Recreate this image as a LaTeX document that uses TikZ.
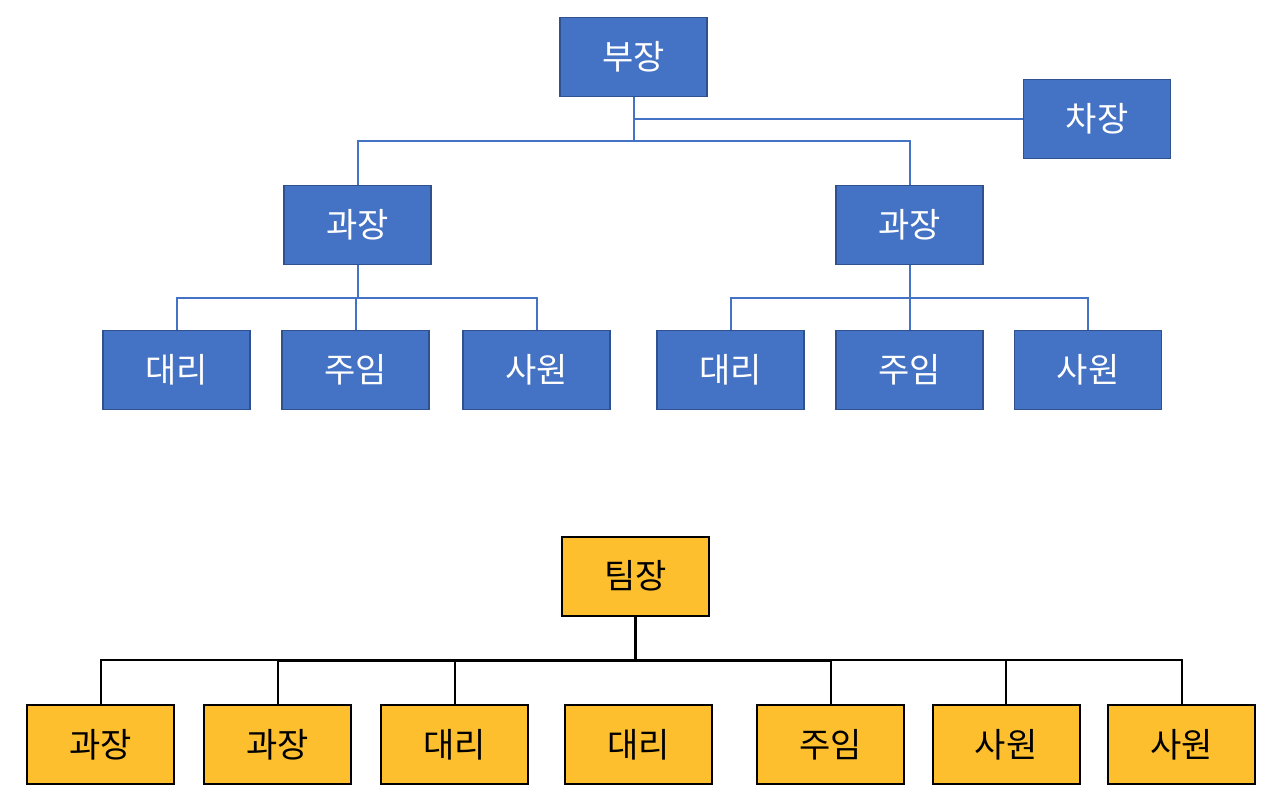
\documentclass[tikz,border=0pt]{standalone}
\usepackage{fontspec}
\newfontfamily\kr{Noto Sans CJK KR}
\definecolor{bfill}{HTML}{4472C4}
\definecolor{bdraw}{HTML}{2F528F}
\definecolor{yfill}{HTML}{FDBF2D}
\begin{document}
\begin{tikzpicture}[x=1pt,y=-1pt,
  bbox/.style={draw=bdraw,fill=bfill,line width=1.5pt,minimum width=147pt,minimum height=79pt,inner sep=0pt,text=white,font=\kr\fontsize{34}{36}\selectfont},
  ybox/.style={draw=black,fill=yfill,line width=2pt,minimum width=147pt,minimum height=79pt,inner sep=0pt,text=black,font=\kr\fontsize{34}{36}\selectfont},
  bline/.style={draw=bfill,line width=2pt},
  yline/.style={draw=black,line width=2pt}]
\useasboundingbox (0,0) rectangle (1280,810);
% top chart
\node[bbox] (bu) at (633.5,57) {부장};
\node[bbox] (cha) at (1097,119) {차장};
\node[bbox] (gwL) at (357.5,225) {과장};
\node[bbox] (gwR) at (909.5,225) {과장};
\node[bbox] (dL) at (176.5,370) {대리};
\node[bbox] (jL) at (355.5,370) {주임};
\node[bbox] (sL) at (536.5,370) {사원};
\node[bbox] (dR) at (730.5,370) {대리};
\node[bbox] (jR) at (909.5,370) {주임};
\node[bbox] (sR) at (1088,370) {사원};
\coordinate (j1) at (633.5,141);
\draw[bline] (bu.south) -- (j1);
\draw[bline] (bu.south |- cha.west) -- (cha.west);
\draw[bline] (j1) -| (gwL.north);
\draw[bline] (j1) -| (gwR.north);
\coordinate (j2) at (357.5,298);
\draw[bline] (gwL.south) -- (j2);
\draw[bline] (j2) -| (dL.north);
\draw[bline] (j2) -| (sL.north);
\draw[bline] (j2 -| jL.north) -- (jL.north);
\coordinate (j3) at (909.5,298);
\draw[bline] (gwR.south) -- (j3);
\draw[bline] (j3) -| (dR.north);
\draw[bline] (j3) -| (sR.north);
\draw[bline] (j3 -| jR.north) -- (jR.north);
% bottom chart
\node[ybox] (tim) at (635.5,576) {팀장};
\node[ybox] (b1) at (100.5,744.5) {과장};
\node[ybox] (b2) at (277.5,744.5) {과장};
\node[ybox] (b3) at (454.5,744.5) {대리};
\node[ybox] (b4) at (638.5,744.5) {대리};
\node[ybox] (b5) at (830.5,744.5) {주임};
\node[ybox] (b6) at (1006,744.5) {사원};
\node[ybox] (b7) at (1181.5,744.5) {사원};
\coordinate (j4) at (635.5,660);
\draw[yline,line width=3pt] (tim.south) -- (j4);
\draw[yline] (j4) -| (b1.north);
\draw[yline] (j4) -| (b7.north);
\draw[yline,line width=3pt] (b2.north |- j4) -- (b5.north |- j4);
\draw[yline] (b2.north |- j4) -- (b2.north);
\draw[yline] (b3.north |- j4) -- (b3.north);
\draw[yline] (b5.north |- j4) -- (b5.north);
\draw[yline] (b6.north |- j4) -- (b6.north);
\end{tikzpicture}
\end{document}
